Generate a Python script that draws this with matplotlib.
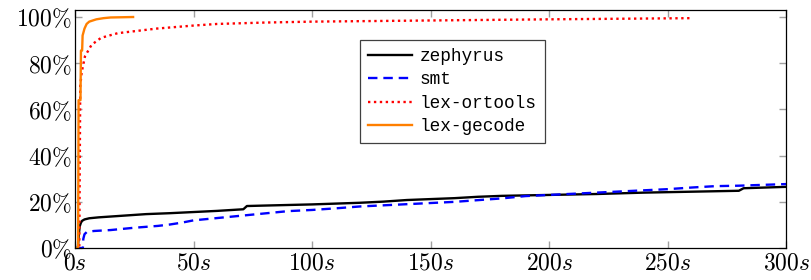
import matplotlib
matplotlib.use("Agg")
import matplotlib.pyplot as plt

plt.rcParams['mathtext.fontset'] = 'cm'

# time (s) / share of solved instances (%)
zephyrus_t = [0, 1.2, 1.6, 2, 2.5, 3, 4, 6, 10, 20, 30, 40, 50, 60, 71, 72.5, 80, 100, 120,
              130, 140, 150, 160, 170, 180, 200, 220, 240, 260, 280, 282, 300]
zephyrus_v = [0, 0, 6, 9.5, 11, 11.8, 12.4, 12.9, 13.3, 14, 14.7, 15.1, 15.6, 16.1, 16.8, 18.2,
              18.4, 18.9, 19.6, 20.1, 20.8, 21.2, 21.6, 22.2, 22.6, 23, 23.4, 24, 24.4, 24.8, 25.9, 26.5]

smt_t = [0, 3.3, 3.5, 4, 5, 8, 15, 20, 25, 35, 40, 45, 50, 60, 70, 80, 90, 100, 110, 120,
         140, 160, 180, 190, 200, 220, 240, 250, 260, 270, 280, 300]
smt_v = [0, 0, 4, 6, 7, 7.4, 7.8, 8.3, 8.8, 9.6, 10.2, 11, 12, 13, 14, 15, 16, 16.5, 17.2, 18,
         19, 20, 21.5, 22.5, 23, 24, 25, 25.5, 26.2, 26.8, 27, 27.7]

ortools_t = [0, 1.8, 2.2, 2.8, 4.2, 7, 11, 18, 34.5, 50, 60, 80, 100, 150, 200, 259.5]
ortools_v = [0, 0, 70, 76, 83, 88, 91, 93, 95, 96.3, 97, 97.6, 98, 98.5, 99, 99.5]

gecode_t = [0, 1.3, 1.5, 2.3, 2.5, 3.0, 3.2, 4, 4.9, 6, 9, 12, 15, 20, 24.5]
gecode_v = [0, 0, 64, 64, 85.5, 85.5, 92, 95, 97, 98, 99, 99.5, 99.8, 99.9, 100]

x_ticks = [0, 50, 100, 150, 200, 250, 300]
y_ticks = [0, 20, 40, 60, 80, 100]

fig = plt.figure(figsize=(8.11, 2.80), dpi=100)
ax = fig.add_axes([0.0925, 0.114, 0.877, 0.85])

ax.plot(zephyrus_t, zephyrus_v, color='black', lw=1.7, label='zephyrus')
ax.plot(smt_t, smt_v, color='blue', lw=1.7, linestyle=(0, (4, 2.5)), label='smt')
ax.plot(ortools_t, ortools_v, color='red', lw=1.7, linestyle=(0, (1, 1.5)), label='lex-ortools')
ax.plot(gecode_t, gecode_v, color='#ff7f00', lw=1.7, label='lex-gecode')

ax.set_xlim(0, 300)
ax.set_ylim(0, 103)
ax.set_xticks(x_ticks)
ax.set_xticklabels([f'${t}s$' for t in x_ticks])
ax.set_yticks(y_ticks)
ax.set_yticklabels([rf'${v}\%$' for v in y_ticks])
ax.tick_params(direction='in', length=5, color='#a0a0a0', width=1,
               top=True, right=True, labelsize=17, pad=2)

for s in ax.spines.values():
    s.set_linewidth(0.9)

leg = ax.legend(loc='upper left', bbox_to_anchor=(0.40, 0.874), borderaxespad=0,
                fancybox=False, framealpha=1, edgecolor='#404040',
                handlelength=2.5, handletextpad=0.45, borderpad=0.45, labelspacing=0.36,
                prop={'family': 'Liberation Mono', 'size': 12.8})
leg.get_frame().set_linewidth(0.9)

fig.savefig('out.png', dpi=100)
